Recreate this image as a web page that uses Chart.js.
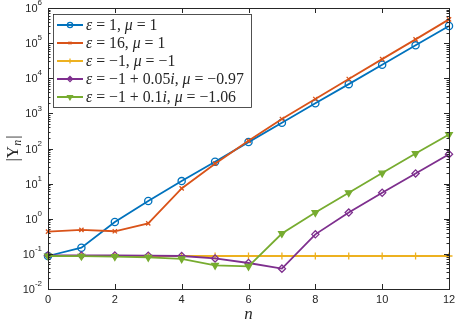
<!DOCTYPE html>
<html>
<head>
<meta charset="utf-8">
<script src="https://cdn.jsdelivr.net/npm/chart.js@4.4.1/dist/chart.umd.min.js"></script>
<style>
  html, body { margin: 0; padding: 0; background: #fff; }
  #chart { display: block; }
</style>
</head>
<body>
<canvas id="chart" width="457" height="324"></canvas>
<script>
// n = 0..12
const nValues = [0, 1, 2, 3, 4, 5, 6, 7, 8, 9, 10, 11, 12]

// |Upsilon_n| for each material case
const epsOne = [0.087, 0.15, 0.81, 3.2, 11.8, 42, 152, 540, 1930, 6800, 24300, 86500, 307000]
const epsSixteen = [0.43, 0.48, 0.44, 0.74, 7.3, 37, 165, 690, 2570, 9500, 35000, 128000, 474000]
const epsNegOne = [0.087, 0.087, 0.087, 0.087, 0.087, 0.087, 0.087, 0.087, 0.087, 0.087, 0.087, 0.087, 0.087]
const epsLoss005 = [0.091, 0.09, 0.09, 0.089, 0.087, 0.074, 0.055, 0.038, 0.36, 1.5, 5.5, 19.5, 69]
const epsLoss01 = [0.087, 0.086, 0.084, 0.08, 0.072, 0.047, 0.044, 0.38, 1.5, 5.5, 20, 72, 250]

const xTickValues = [0, 2, 4, 6, 8, 10, 12]
const yTickExponents = [-2, -1, 0, 1, 2, 3, 4, 5, 6]

// legend labels: [text, italic]
const legendLabels = [
  [['ε', 1], [' = 1, ', 0], ['μ', 1], [' = 1', 0]],
  [['ε', 1], [' = 16, ', 0], ['μ', 1], [' = 1', 0]],
  [['ε', 1], [' = −1, ', 0], ['μ', 1], [' = −1', 0]],
  [['ε', 1], [' = −1 + 0.05', 0], ['i', 1], [', ', 0], ['μ', 1], [' = −0.97', 0]],
  [['ε', 1], [' = −1 + 0.1', 0], ['i', 1], [', ', 0], ['μ', 1], [' = −1.06', 0]]
]

const ink = '#262626'
const sans = '"Liberation Sans", Arial, sans-serif'
const serif = '"Liberation Serif", "DejaVu Serif", serif'

const toPoints = vals => vals.map((v, i) => ({ x: nValues[i], y: v }))

const series = [
  { data: epsOne, color: '#0072BD', style: 'circle', r: 3.6, fill: false, rot: 0 },
  { data: epsSixteen, color: '#D95319', style: 'crossRot', r: 3, fill: false, rot: 0 },
  { data: epsNegOne, color: '#EDB120', style: 'cross', r: 3.5, fill: false, rot: 0 },
  { data: epsLoss005, color: '#7E2F8E', style: 'rectRot', r: 3.6, fill: false, rot: 0 },
  { data: epsLoss01, color: '#77AC30', style: 'triangle', r: 3.8, fill: true, rot: 180 }
]

const axesPlugin = {
  id: 'matlabAxes',
  afterDraw(chart) {
    const { ctx, chartArea: a, scales: { x, y } } = chart
    ctx.save()

    // box
    ctx.strokeStyle = ink
    ctx.lineWidth = 1
    ctx.strokeRect(Math.round(a.left) + 0.5, Math.round(a.top) + 0.5,
      Math.round(a.right - a.left), Math.round(a.bottom - a.top))

    // inward ticks
    ctx.beginPath()
    xTickValues.forEach(v => {
      const px = Math.round(x.getPixelForValue(v)) + 0.5
      ctx.moveTo(px, a.bottom); ctx.lineTo(px, a.bottom - 5)
      ctx.moveTo(px, a.top); ctx.lineTo(px, a.top + 5)
    })
    yTickExponents.forEach(d => {
      const py = Math.round(y.getPixelForValue(Math.pow(10, d))) + 0.5
      ctx.moveTo(a.left, py); ctx.lineTo(a.left + 5, py)
      ctx.moveTo(a.right, py); ctx.lineTo(a.right - 5, py)
      if (d < 6) {
        for (let m = 2; m <= 9; m++) {
          const pm = Math.round(y.getPixelForValue(m * Math.pow(10, d))) + 0.5
          ctx.moveTo(a.left, pm); ctx.lineTo(a.left + 2.5, pm)
          ctx.moveTo(a.right, pm); ctx.lineTo(a.right - 2.5, pm)
        }
      }
    })
    ctx.stroke()

    // x tick labels
    ctx.fillStyle = ink
    ctx.font = '11px ' + sans
    ctx.textAlign = 'center'
    ctx.textBaseline = 'middle'
    xTickValues.forEach(v => {
      ctx.fillText(String(v), x.getPixelForValue(v), a.bottom + 11)
    })

    // y tick labels 10^k
    yTickExponents.forEach(d => {
      const py = y.getPixelForValue(Math.pow(10, d))
      const right = a.left - 6
      ctx.font = '8px ' + sans
      const exp = String(d)
      const we = ctx.measureText(exp).width
      ctx.textAlign = 'left'
      ctx.fillText(exp, right - we, py - 5)
      ctx.font = '11px ' + sans
      const wb = ctx.measureText('10').width
      ctx.fillText('10', right - we - wb, py + 1)
    })

    // x title
    ctx.font = 'italic 17px ' + serif
    ctx.textAlign = 'center'
    ctx.fillText('n', (a.left + a.right) / 2, a.bottom + 26)

    // y title |Υ_n|
    ctx.save()
    ctx.translate(14, (a.top + a.bottom) / 2)
    ctx.rotate(-Math.PI / 2)
    ctx.textAlign = 'left'
    const parts = [['|Υ', '17px ', 0], ['n', 'italic 12px ', 4], ['|', '17px ', 0]]
    let total = 0
    parts.forEach(p => { ctx.font = p[1] + serif; total += ctx.measureText(p[0]).width + (p[0] === 'n' ? 1 : 0) })
    let cx = -total / 2
    parts.forEach(p => {
      ctx.font = p[1] + serif
      ctx.fillText(p[0], cx, p[2])
      cx += ctx.measureText(p[0]).width + (p[0] === 'n' ? 1 : 0)
    })
    ctx.restore()

    // legend
    const lx = a.left + 5, ly = a.top + 6, lw = 198, lh = 93
    ctx.fillStyle = '#fff'
    ctx.fillRect(lx, ly, lw, lh)
    ctx.strokeStyle = ink
    ctx.lineWidth = 0.8
    ctx.strokeRect(lx + 0.5, ly + 0.5, lw, lh)
    series.forEach((s, i) => {
      const ry = ly + 11 + i * 18
      ctx.strokeStyle = s.color
      ctx.fillStyle = s.color
      ctx.lineWidth = 2
      ctx.beginPath()
      ctx.moveTo(lx + 4, ry); ctx.lineTo(lx + 30, ry)
      ctx.stroke()
      ctx.lineWidth = 1.3
      ctx.fillStyle = s.fill ? s.color : 'rgba(0,0,0,0)'
      Chart.helpers.drawPoint(ctx, { pointStyle: s.style, radius: s.r - 1, rotation: s.rot, borderWidth: 1.3 }, lx + 17, ry)
      let tx = lx + 33
      ctx.fillStyle = ink
      ctx.textAlign = 'left'
      ctx.textBaseline = 'middle'
      legendLabels[i].forEach(([t, it]) => {
        ctx.font = (it ? 'italic ' : '') + '15.8px ' + serif
        ctx.fillText(t, tx, ry + 1)
        tx += ctx.measureText(t).width
      })
    })

    ctx.restore()
  }
}

new Chart(document.getElementById('chart'), {
  type: 'line',
  data: {
    datasets: series.map((s, i) => ({
      data: toPoints(s.data),
      borderColor: s.color,
      backgroundColor: s.color,
      borderWidth: 1.8,
      pointStyle: s.style,
      pointRadius: s.r,
      pointRotation: s.rot,
      pointBorderColor: s.color,
      pointBackgroundColor: s.fill ? s.color : 'rgba(0,0,0,0)',
      pointBorderWidth: 1.3,
      tension: 0,
      clip: false,
      order: series.length - i
    }))
  },
  options: {
    responsive: false,
    animation: false,
    devicePixelRatio: 1,
    layout: { padding: { top: 8, right: 8, left: 0, bottom: 0 } },
    plugins: { legend: { display: false }, tooltip: { enabled: false } },
    scales: {
      x: {
        type: 'linear', min: 0, max: 12,
        grid: { display: false }, border: { display: false },
        ticks: { display: false },
        afterFit: scale => { scale.height = 35 }
      },
      y: {
        type: 'logarithmic', min: 0.01, max: 1e6,
        grid: { display: false }, border: { display: false },
        ticks: { display: false },
        afterFit: scale => { scale.width = 48 }
      }
    }
  },
  plugins: [axesPlugin]
})
</script>
</body>
</html>
